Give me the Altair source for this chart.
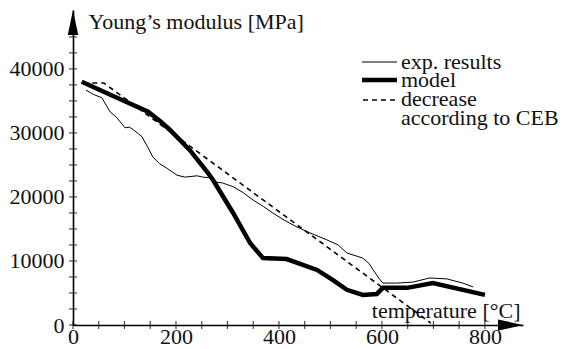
import altair as alt
import pandas as pd

# ---- data ----
exp_T = [25, 40, 56, 72, 85, 101, 110, 117, 125, 134, 145, 155, 168, 182, 202, 217,
         241, 252, 266, 272, 290, 311, 330, 350, 370, 388, 410, 435, 460, 493, 515,
         532, 563, 575, 583, 595, 602, 629, 660, 693, 726, 757, 777]
exp_E = [36700, 36000, 35500, 33300, 32400, 30800, 30900, 30500, 30000, 29400, 27800,
         26250, 25200, 24500, 23400, 23100, 23300, 23100, 23000, 22350, 22200, 21600,
         20700, 19500, 18500, 17500, 16400, 15300, 14400, 13300, 12500, 11250, 10450,
         9600, 8600, 7200, 6550, 6550, 6700, 7350, 7200, 6550, 5950]

model_T = [17, 80, 146, 170, 188, 227, 262, 272, 311, 344, 369, 415, 474, 505, 532,
           563, 590, 602, 649, 699, 800]
model_E = [38000, 35700, 33300, 31800, 30500, 27300, 23750, 22650, 17500, 12800, 10450,
           10300, 8600, 7000, 5500, 4700, 4850, 5800, 5800, 6550, 4700]

ceb_T = [20, 60, 695]
ceb_E = [37800, 37800, 300]

x_labels = [0, 200, 400, 600, 800]
y_labels = [0, 10000, 20000, 30000, 40000]
x_ticks = list(range(0, 801, 50))
y_ticks = list(range(0, 45001, 2500))

legend_labels = ["exp. results", "model", "decrease", "according to CEB"]

FONT = "'Liberation Serif', 'DejaVu Serif', serif"
W, H = 450, 315
xscale = alt.Scale(domain=[0, 874], nice=False, zero=False)
yscale = alt.Scale(domain=[0, 49200], nice=False, zero=False)

xaxis = alt.Axis(values=x_labels, ticks=False, grid=False, domainColor="black",
                 domainWidth=1.6, labelFont=FONT, labelFontSize=22, labelColor="#111",
                 labelPadding=1, labelFlush=False, format="d",
                 title="temperature [°C]", titleFont=FONT, titleFontSize=22,
                 titleFontWeight="normal", titleColor="#111", titleX=447, titleY=-8,
                 titleAlign="right", titleBaseline="alphabetic")
yaxis = alt.Axis(values=y_labels, ticks=False, grid=False, domainColor="black",
                 domainWidth=1.6, labelFont=FONT, labelFontSize=22, labelColor="#111",
                 labelPadding=9, labelFlush=False, format="d",
                 title="Young’s modulus [MPa]", titleFont=FONT, titleFontSize=22,
                 titleFontWeight="normal", titleColor="#111", titleAngle=0,
                 titleX=15, titleY=18, titleAlign="left", titleBaseline="alphabetic")

X = lambda f: alt.X(f, type="quantitative", scale=xscale, axis=xaxis)
Y = lambda f: alt.Y(f, type="quantitative", scale=yscale, axis=yaxis)

exp_df = pd.DataFrame({"T": exp_T, "E": exp_E})
model_df = pd.DataFrame({"T": model_T, "E": model_E})
ceb_df = pd.DataFrame({"T": ceb_T, "E": ceb_E})

exp_line = alt.Chart(exp_df).mark_line(color="black", strokeWidth=1).encode(
    x=X("T"), y=Y("E"), order="T:Q")
model_line = alt.Chart(model_df).mark_line(color="black", strokeWidth=4.5).encode(
    x=X("T"), y=Y("E"), order="T:Q")
ceb_line = alt.Chart(ceb_df).mark_line(color="black", strokeWidth=1.6,
                                       strokeDash=[5, 4]).encode(
    x=X("T"), y=Y("E"), order="T:Q")

xt = alt.Chart(pd.DataFrame({"v": x_ticks})).mark_tick(
    orient="vertical", size=8, thickness=1.2, color="black").encode(
    x=X("v"), y=alt.value(H))
yt = alt.Chart(pd.DataFrame({"v": y_ticks})).mark_tick(
    orient="horizontal", size=8, thickness=1.2, color="black").encode(
    y=Y("v"), x=alt.value(0))

one = pd.DataFrame({"a": [0]})
y_arrow = alt.Chart(one).mark_point(shape="M0,-1L0.42,1L-0.42,1Z", size=625,
                                    filled=True, opacity=1, color="black").encode(
    x=alt.value(0), y=alt.value(12.5))
x_arrow = alt.Chart(one).mark_point(shape="M1,0L-1,-0.45L-1,0.45Z", size=625,
                                    filled=True, opacity=1, color="black").encode(
    x=alt.value(W - 12.5), y=alt.value(H))

# legend
lx1, lx2, ltx = 289, 324, 328
leg_thin = alt.Chart(one).mark_rule(color="black", strokeWidth=1).encode(
    x=alt.value(lx1), x2=alt.value(lx2), y=alt.value(52))
leg_thick = alt.Chart(one).mark_rule(color="black", strokeWidth=4.5).encode(
    x=alt.value(lx1), x2=alt.value(lx2), y=alt.value(70))
leg_dash = alt.Chart(one).mark_rule(color="black", strokeWidth=1.6,
                                    strokeDash=[5, 4]).encode(
    x=alt.value(lx1 + 1), x2=alt.value(lx2), y=alt.value(90))
leg_texts = [
    alt.Chart(one).mark_text(font=FONT, fontSize=22, color="#111", align="left",
                             baseline="alphabetic", text=lab).encode(
        x=alt.value(ltx), y=alt.value(yy))
    for lab, yy in zip(legend_labels, [59, 77, 96, 115])
]

chart = alt.layer(
    ceb_line, exp_line, model_line, xt, yt, y_arrow, x_arrow,
    leg_thin, leg_thick, leg_dash, *leg_texts
).properties(
    width=W, height=H,
    autosize=alt.AutoSizeParams(type="none"),
    padding={"left": 73, "top": 10, "right": 56, "bottom": 24},
).configure_view(stroke=None)

chart.save("out.html", embed_options={"renderer": "svg", "actions": False})
